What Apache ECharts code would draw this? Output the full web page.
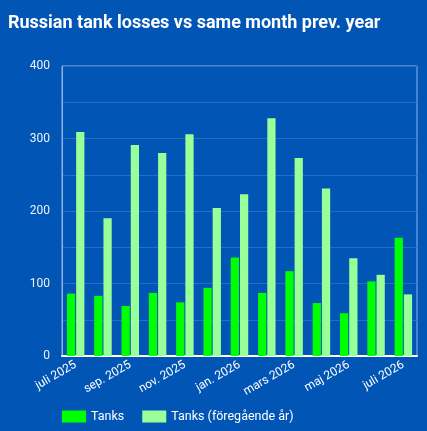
<!DOCTYPE html>
<html>
<head>
<meta charset="utf-8">
<script src="https://cdn.jsdelivr.net/npm/echarts@6/dist/echarts.min.js"></script>
<style>
  html, body { margin: 0; padding: 0; background: #0055b5; }
  #chart { width: 427px; height: 431px; }
</style>
</head>
<body>
<div id="chart"></div>
<script>
// månader och värden
const months = ['juli 2025', 'aug. 2025', 'sep. 2025', 'okt. 2025', 'nov. 2025', 'dec. 2025',
  'jan. 2026', 'feb. 2026', 'mars 2026', 'apr. 2026', 'maj 2026', 'juni 2026', 'juli 2026'];
const tanks = [86, 83, 69, 87, 74, 94, 136, 87, 117, 73, 59, 103, 163];
const tanksPrevYear = [309, 190, 291, 280, 306, 204, 223, 328, 273, 231, 135, 112, 85];
const yTicks = [0, 100, 200, 300, 400];

const chart = echarts.init(document.getElementById('chart'));

chart.setOption({
  backgroundColor: '#0055b5',
  textStyle: { fontFamily: 'Roboto' },
  title: {
    text: 'Russian tank losses vs same month prev. year',
    left: 3,
    top: 9,
    textStyle: { color: '#ffffff', fontSize: 18, fontWeight: 'bold', fontFamily: 'Roboto' }
  },
  legend: {
    bottom: 3,
    left: 57,
    itemWidth: 24,
    itemHeight: 12,
    itemGap: 18,
    icon: 'rect',
    textStyle: { color: '#ffffff', fontSize: 12.5 },
    data: ['Tanks', 'Tanks (föregående år)']
  },
  grid: {
    left: 62,
    right: 10,
    top: 66,
    bottom: 75,
    show: true,
    borderColor: '#8cb4ea',
    borderWidth: 1
  },
  xAxis: {
    type: 'category',
    data: months,
    axisLine: { lineStyle: { color: '#ffffff', width: 2 } },
    axisTick: { show: false },
    axisLabel: {
      color: '#ffffff',
      fontSize: 12,
      interval: 1,
      rotate: 30,
      margin: 8
    }
  },
  yAxis: {
    type: 'value',
    min: 0,
    max: 400,
    interval: 50,
    axisLine: { show: true, lineStyle: { color: '#8cb4ea', width: 1 } },
    axisTick: { show: false },
    splitLine: { lineStyle: { color: '#2a6cc4', width: 1 } },
    axisLabel: {
      color: '#eef3fb',
      fontSize: 12,
      margin: 12,
      formatter: v => yTicks.includes(v) ? String(v) : ''
    }
  },
  series: [
    {
      name: 'Tanks',
      type: 'bar',
      data: tanks,
      itemStyle: { color: '#00ff00' },
      barGap: '12%',
      barCategoryGap: '36%'
    },
    {
      name: 'Tanks (föregående år)',
      type: 'bar',
      data: tanksPrevYear,
      itemStyle: { color: '#99ff99' }
    }
  ]
});
</script>
</body>
</html>
